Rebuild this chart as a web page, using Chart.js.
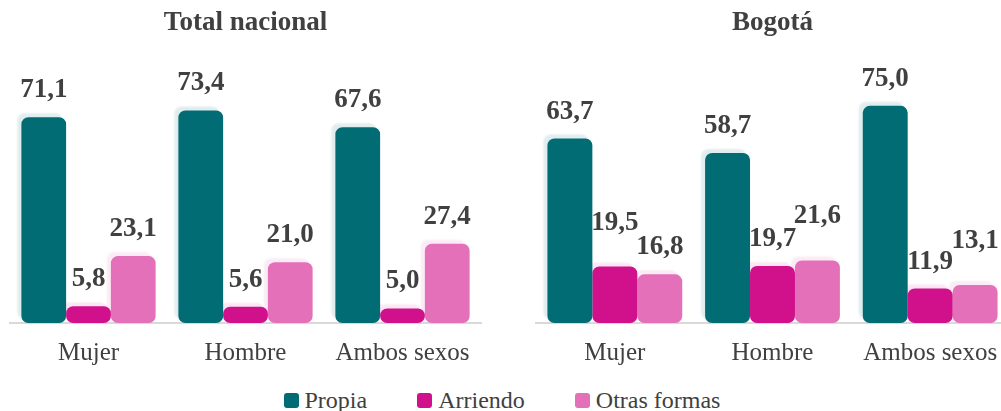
<!DOCTYPE html>
<html>
<head>
<meta charset="utf-8">
<script src="https://cdn.jsdelivr.net/npm/chart.js@4.4.1/dist/chart.umd.min.js"></script>
<style>
  html, body { margin: 0; padding: 0; background: #ffffff; }
  body { width: 1001px; height: 411px; overflow: hidden; position: relative; }
  canvas { position: absolute; top: 0; }
  #c1 { left: 0; }
  #c2 { left: 500px; }
  #legend {
    position: absolute; left: 0; width: 1001px; top: 388px; height: 25px;
    display: flex; justify-content: center; align-items: center;
    font-family: 'Liberation Serif', serif; font-size: 24px; color: #404040;
    padding-left: 3px; box-sizing: border-box;
  }
  .item { display: flex; align-items: center; margin: 0 25px; }
  .box { width: 15px; height: 15px; border-radius: 3px; margin-right: 6px; }
</style>
</head>
<body>
<canvas id="c1" width="500" height="383"></canvas>
<canvas id="c2" width="520" height="383"></canvas>
<div id="legend"></div>
<script>
// ---- data ----
const categories = ['Mujer', 'Hombre', 'Ambos sexos'];
const seriesNames = ['Propia', 'Arriendo', 'Otras formas'];
const panelTitles = ['Total nacional', 'Bogotá'];
const nacionalPropia = [71.1, 73.4, 67.6];
const nacionalArriendo = [5.8, 5.6, 5.0];
const nacionalOtras = [23.1, 21.0, 27.4];
const bogotaPropia = [63.7, 58.7, 75.0];
const bogotaArriendo = [19.5, 19.7, 11.9];
const bogotaOtras = [16.8, 21.6, 13.1];

// ---- styles ----
const colors = ['#016C74', '#D1118C', '#E370B8'];
const shadowColors = ['rgba(1,108,116,0.12)', 'rgba(209,17,140,0.10)', 'rgba(227,112,184,0.14)'];
const textColor = '#404040';
const serif = "'Liberation Serif', serif";

const shadowPlugin = {
  id: 'barShadow',
  beforeDatasetDraw(chart, args) {
    const ctx = chart.ctx;
    ctx.save();
    ctx.shadowColor = shadowColors[args.index];
    ctx.shadowOffsetX = -4;
    ctx.shadowOffsetY = -4;
    ctx.shadowBlur = 2;
  },
  afterDatasetDraw(chart) {
    chart.ctx.restore();
  }
};

const labelPlugin = {
  id: 'valueLabels',
  afterDatasetsDraw(chart) {
    const ctx = chart.ctx;
    ctx.save();
    ctx.font = 'bold 27px ' + serif;
    ctx.fillStyle = textColor;
    ctx.textAlign = 'center';
    ctx.textBaseline = 'middle';
    const n = chart.data.labels.length;
    for (let i = 0; i < n; i++) {
      const items = chart.data.datasets.map((ds, j) => {
        const el = chart.getDatasetMeta(j).data[i];
        const text = ds.data[i].toFixed(1).replace('.', ',');
        return { x: el.x, y: el.y - 27, text, w: ctx.measureText(text).width };
      });
      for (let j = 1; j < items.length; j++) {
        const a = items[j - 1], b = items[j];
        if (Math.abs(a.x - b.x) < (a.w + b.w) / 2 && Math.abs(a.y - b.y) < 20) {
          const higher = a.y < b.y ? a : b;
          higher.y -= 17;
        }
      }
      items.forEach(it => ctx.fillText(it.text, it.x, it.y));
    }
    ctx.restore();
  }
};

function makeChart(id, title, series, padLeft, padRight) {
  return new Chart(document.getElementById(id), {
    type: 'bar',
    data: {
      labels: categories,
      datasets: series.map((d, j) => ({
        label: seriesNames[j],
        data: d,
        backgroundColor: colors[j],
        borderRadius: 7,
        borderSkipped: false,
        barPercentage: 1.0,
        categoryPercentage: 0.855
      }))
    },
    options: {
      responsive: false,
      devicePixelRatio: 1,
      animation: false,
      layout: { padding: { left: padLeft, right: padRight, top: 0, bottom: 0 } },
      plugins: {
        legend: { display: false },
        tooltip: { enabled: false },
        title: {
          display: true,
          text: title,
          color: textColor,
          font: { family: serif, size: 27, weight: 'bold' },
          padding: { top: 7, bottom: 23 }
        }
      },
      scales: {
        x: {
          grid: { display: false, drawTicks: false },
          border: { display: true, color: '#d9d9d9', width: 2 },
          ticks: { color: textColor, font: { family: serif, size: 25 }, padding: 15 }
        },
        y: { display: false, min: 0, max: 90 }
      }
    },
    plugins: [shadowPlugin, labelPlugin]
  });
}

makeChart('c1', panelTitles[0], [nacionalPropia, nacionalArriendo, nacionalOtras], 10, 19);
makeChart('c2', panelTitles[1], [bogotaPropia, bogotaArriendo, bogotaOtras], 36, 11);

// legend
const legend = document.getElementById('legend');
seriesNames.forEach((name, j) => {
  const item = document.createElement('div');
  item.className = 'item';
  const box = document.createElement('span');
  box.className = 'box';
  box.style.background = colors[j];
  const t = document.createElement('span');
  t.textContent = name;
  item.appendChild(box);
  item.appendChild(t);
  legend.appendChild(item);
});
</script>
</body>
</html>
